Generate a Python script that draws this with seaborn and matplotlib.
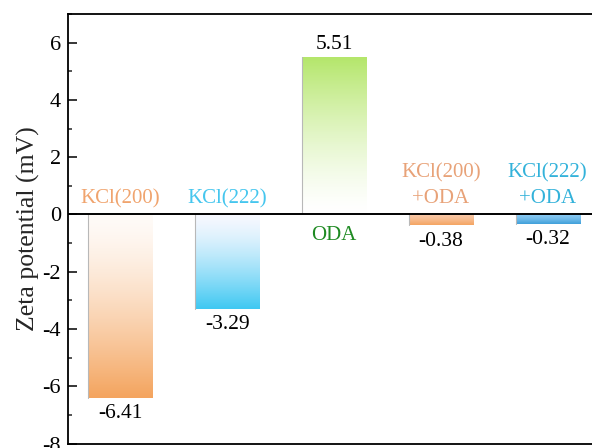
import numpy as np
import pandas as pd
import matplotlib
matplotlib.use("Agg")
import matplotlib.pyplot as plt
from matplotlib.colors import LinearSegmentedColormap
from matplotlib.ticker import MultipleLocator
import seaborn as sns

# Zeta potential of each sample (mV)
categories = ["KCl(200)", "KCl(222)", "ODA", "KCl(200)\n+ODA", "KCl(222)\n+ODA"]
values = [-6.41, -3.29, 5.51, -0.38, -0.32]
label_colors = ["#F0A46E", "#45C6EE", "#1E8A22", "#E8A278", "#33B2DA"]
# gradient end colours: (colour at zero line, colour at bar end)
grad_colors = [
    ("#FFFBF8", "#F4A45E"),
    ("#F6F8FF", "#3FC8F2"),
    ("#FFFFFF", "#B4E66A"),
    ("#F8C8A8", "#F4A460"),
    ("#8CCAF2", "#3E9FDA"),
]
yticks = [-8, -6, -4, -2, 0, 2, 4, 6]

sns.set_style("ticks")
plt.rcParams["font.family"] = ["Liberation Serif", "DejaVu Serif"]
plt.rcParams["axes.unicode_minus"] = False

fig = plt.figure(figsize=(5.92, 4.48), dpi=100)
ax = fig.add_axes([68 / 592, 4.5 / 448, 533 / 592, 429.5 / 448])

df = pd.DataFrame({"sample": categories, "zeta": values})
sns.barplot(data=df, x="sample", y="zeta", width=0.6, ax=ax,
            color="white", edgecolor="none", linewidth=0, errorbar=None)

ylim = (-8, 7)
xlim = (-0.49, 4.5)

# gradient fill for each bar, pale at the zero line, saturated at the tip
for patch, (c0, c1), v in zip(ax.patches, grad_colors, values):
    x0 = patch.get_x()
    w = patch.get_width()
    cmap = LinearSegmentedColormap.from_list("g", [c0, c1])
    t = np.linspace(0, 1, 256) ** 1.4
    if v < 0:
        grad = t[:, None]          # row 0 at top (zero line) -> pale
        extent = (x0, x0 + w, v, 0)
    else:
        grad = t[::-1][:, None]    # row 0 at top (bar tip) -> saturated
        extent = (x0, x0 + w, 0, v)
    im = ax.imshow(grad, cmap=cmap, aspect="auto", extent=extent,
                   origin="upper", interpolation="bicubic", zorder=2)
    im.set_clip_path(patch)
    ax.plot([x0, x0], [0, v], color="#B8B8B8", lw=0.8, zorder=3)

# zero reference line
ax.axhline(0, color="black", lw=1.4, zorder=4)

# value labels at bar ends
for i, v in enumerate(values):
    off = -11.5 if v < 0 else 8.5
    ax.annotate(f"{v:.2f}", (i, v), xytext=(0, off), textcoords="offset points",
                ha="center", va="center", fontsize=15.5, color="black")

# sample names next to the zero line
for i, (name, v, col) in enumerate(zip(categories, values, label_colors)):
    if v > 0:
        off = -15.0
    elif "\n" in name:
        off = 21.0
    else:
        off = 11.5
    ax.annotate(name, (i, 0), xytext=(0, off), textcoords="offset points",
                ha="center", va="center", fontsize=15, color=col,
                linespacing=1.45)

ax.set_xlim(*xlim)
ax.set_ylim(*ylim)
ax.set_yticks(yticks)
ax.yaxis.set_minor_locator(MultipleLocator(1))
ax.set_xticks([])
ax.set_xlabel("")
ax.set_ylabel("Zeta potential (mV)", fontsize=18.5, labelpad=2)
ax.tick_params(axis="y", which="major", direction="in", length=6.5, width=1.1,
               labelsize=16, pad=5, colors="black")
ax.tick_params(axis="y", which="minor", direction="in", length=3, width=1.1)
for s in ax.spines.values():
    s.set_visible(True)
    s.set_linewidth(1.3)
    s.set_color("black")

fig.savefig("out.png", dpi=100)
